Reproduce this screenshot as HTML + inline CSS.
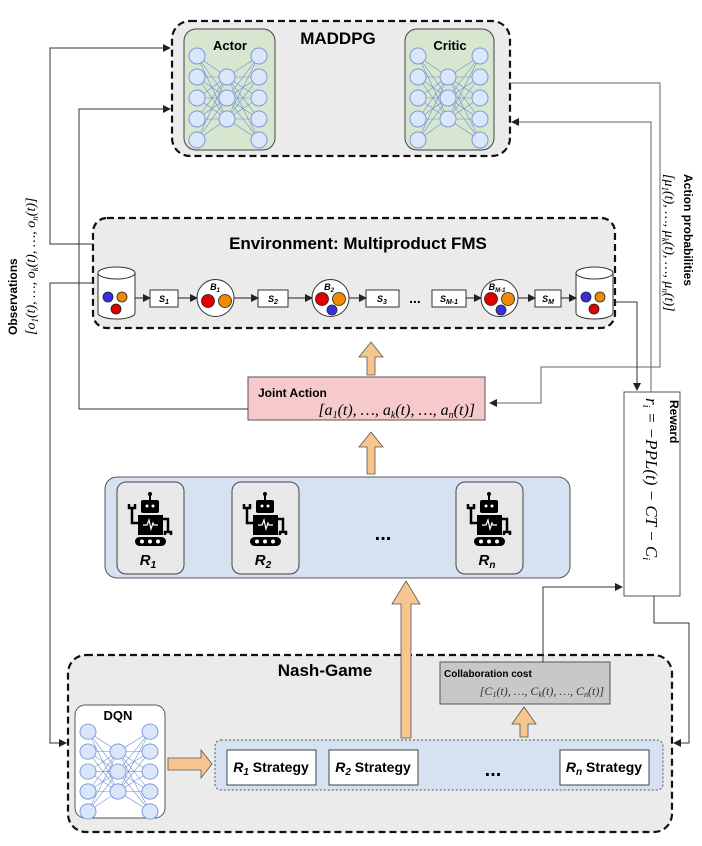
<!DOCTYPE html>
<html><head><meta charset="utf-8"><style>
html,body{margin:0;padding:0;background:#fff;}
svg{display:block;}
text{font-family:"Liberation Sans",sans-serif;}
.m{font-family:"Liberation Serif",serif;font-style:italic;}
</style></head><body>
<svg width="702" height="846" viewBox="0 0 702 846" xmlns="http://www.w3.org/2000/svg">
<defs>
<marker id="ar" markerWidth="8" markerHeight="8" refX="7" refY="4" orient="auto" markerUnits="userSpaceOnUse"><path d="M0,0 L8,4 L0,8 z" fill="#222"/></marker>
<g id="net">
 <g stroke="#6f8fd0" stroke-width="0.6">
  <path d="M14,27 L44,48 M14,27 L44,69 M14,27 L44,90 M14,48 L44,48 M14,48 L44,69 M14,48 L44,90 M14,69 L44,48 M14,69 L44,69 M14,69 L44,90 M14,90 L44,48 M14,90 L44,69 M14,90 L44,90 M14,111 L44,48 M14,111 L44,69 M14,111 L44,90"/>
  <path d="M76,27 L44,48 M76,27 L44,69 M76,27 L44,90 M76,48 L44,48 M76,48 L44,69 M76,48 L44,90 M76,69 L44,48 M76,69 L44,69 M76,69 L44,90 M76,90 L44,48 M76,90 L44,69 M76,90 L44,90 M76,111 L44,48 M76,111 L44,69 M76,111 L44,90"/>
 </g>
 <g fill="#dbe6fb" stroke="#7b9bd8" stroke-width="1">
  <circle cx="14" cy="27" r="8"/><circle cx="14" cy="48" r="8"/><circle cx="14" cy="69" r="8"/><circle cx="14" cy="90" r="8"/><circle cx="14" cy="111" r="8"/>
  <circle cx="44" cy="48" r="8"/><circle cx="44" cy="69" r="8"/><circle cx="44" cy="90" r="8"/>
  <circle cx="76" cy="27" r="8"/><circle cx="76" cy="48" r="8"/><circle cx="76" cy="69" r="8"/><circle cx="76" cy="90" r="8"/><circle cx="76" cy="111" r="8"/>
 </g>
</g>
<g id="robot">
 <line x1="0" y1="-8" x2="0" y2="-3" stroke="#000" stroke-width="2"/><circle cx="0" cy="-9" r="2"/>
 <rect x="-9" y="-3" width="18" height="13" rx="2"/>
 <circle cx="-3" cy="3" r="1.5" fill="#fff"/><circle cx="3" cy="3" r="1.5" fill="#fff"/>
 <rect x="-12" y="12" width="25" height="20"/>
 <path d="M-7,22 L-3,22 L-1,17 L1,26 L3,20 L4,22 L8,22" stroke="#fff" stroke-width="1.2" fill="none"/>
 <path d="M-12,20 L-18,20 L-18,6 M-21,1 L-21,5 L-15,5 L-15,1" stroke="#000" stroke-width="2.5" fill="none"/>
 <path d="M13,16 L18,16 L18,28 M15,32 L15,29 L21,29 L21,32" stroke="#000" stroke-width="2.5" fill="none"/>
 <rect x="-15" y="34" width="31" height="9" rx="4.5"/>
 <circle cx="-8" cy="38.5" r="2" fill="#fff"/><circle cx="0" cy="38.5" r="2" fill="#fff"/><circle cx="8" cy="38.5" r="2" fill="#fff"/>
</g>
</defs>

<!-- MADDPG -->
<rect x="172" y="21" width="338" height="135" rx="18" fill="#ebebeb" stroke="#111" stroke-width="2.2" stroke-dasharray="7,4"/>
<text x="338" y="44" font-size="17" font-weight="bold" text-anchor="middle">MADDPG</text>
<rect x="184" y="29" width="91" height="121" rx="12" fill="#d6e6cf" stroke="#444"/>
<text x="230" y="50" font-size="13" font-weight="bold" text-anchor="middle">Actor</text>
<use href="#net" x="183" y="29"/>
<rect x="405" y="29" width="89" height="121" rx="12" fill="#d6e6cf" stroke="#444"/>
<text x="450" y="50" font-size="13" font-weight="bold" text-anchor="middle">Critic</text>
<use href="#net" x="404" y="29"/>

<!-- Environment -->
<rect x="93" y="218" width="522" height="110" rx="14" fill="#ebebeb" stroke="#111" stroke-width="2.2" stroke-dasharray="7,4"/>
<text x="358" y="249" font-size="17" font-weight="bold" text-anchor="middle">Environment: Multiproduct FMS</text>
<g stroke="#333" stroke-width="1">
 <path d="M98,273 L98,313 A18.5,6 0 0 0 135,313 L135,273" fill="#fff"/>
 <ellipse cx="116.5" cy="273" rx="18.5" ry="6" fill="#fff"/>
 <path d="M576,273 L576,313 A18.5,6 0 0 0 613,313 L613,273" fill="#fff"/>
 <ellipse cx="594.5" cy="273" rx="18.5" ry="6" fill="#fff"/>
 <circle cx="215.5" cy="298" r="18.5" fill="#fff"/>
 <circle cx="330.5" cy="298" r="18.5" fill="#fff"/>
 <circle cx="499.5" cy="298" r="18.5" fill="#fff"/>
 <rect x="150" y="290" width="28" height="17" fill="#fff"/>
 <rect x="258" y="290" width="30" height="17" fill="#fff"/>
 <rect x="366" y="290" width="33" height="17" fill="#fff"/>
 <rect x="432" y="290" width="34" height="17" fill="#fff"/>
 <rect x="535" y="290" width="26" height="17" fill="#fff"/>
</g>
<g stroke="#222" stroke-width="0.8">
 <circle cx="108" cy="297" r="5" fill="#3a2fe0"/><circle cx="122" cy="297" r="5" fill="#f08a00"/><circle cx="116" cy="309" r="5" fill="#e00000"/>
 <circle cx="586" cy="297" r="5" fill="#3a2fe0"/><circle cx="600" cy="297" r="5" fill="#f08a00"/><circle cx="594" cy="309" r="5" fill="#e00000"/>
 <circle cx="208" cy="301" r="6.5" fill="#e00000"/><circle cx="225" cy="301" r="6.5" fill="#f08a00"/>
 <circle cx="322" cy="299" r="6.5" fill="#e00000"/><circle cx="339" cy="299" r="6.5" fill="#f08a00"/><circle cx="332" cy="310" r="5" fill="#3a2fe0"/>
 <circle cx="491" cy="299" r="6.5" fill="#e00000"/><circle cx="508" cy="299" r="6.5" fill="#f08a00"/><circle cx="501" cy="310" r="5" fill="#3a2fe0"/>
</g>
<g font-size="9" font-style="italic" font-weight="bold" text-anchor="middle">
 <text x="164" y="302">S<tspan font-size="7" dy="2">1</tspan></text>
 <text x="273" y="302">S<tspan font-size="7" dy="2">2</tspan></text>
 <text x="382" y="302">S<tspan font-size="7" dy="2">3</tspan></text>
 <text x="449" y="302">S<tspan font-size="7" dy="2">M-1</tspan></text>
 <text x="548" y="302">S<tspan font-size="7" dy="2">M</tspan></text>
 <text x="215" y="290">B<tspan font-size="6" dy="2">1</tspan></text>
 <text x="329" y="290">B<tspan font-size="6" dy="2">2</tspan></text>
 <text x="497" y="290">B<tspan font-size="6" dy="2">M-1</tspan></text>
</g>
<text x="415" y="303" font-size="14" font-weight="bold" text-anchor="middle">...</text>
<g stroke="#222" stroke-width="1" marker-end="url(#ar)">
 <line x1="135" y1="298" x2="150" y2="298"/><line x1="178" y1="298" x2="197" y2="298"/>
 <line x1="234" y1="298" x2="258" y2="298"/><line x1="288" y1="298" x2="312" y2="298"/>
 <line x1="349" y1="298" x2="366" y2="298"/><line x1="466" y1="298" x2="481" y2="298"/>
 <line x1="518" y1="298" x2="535" y2="298"/><line x1="561" y1="298" x2="576" y2="298"/>
</g>

<!-- Joint action -->
<rect x="248" y="377" width="237" height="43" fill="#f6c9cb" stroke="#555"/>
<text x="258" y="397" font-size="12" font-weight="bold">Joint Action</text>
<text x="475" y="415" font-size="16" text-anchor="end" class="m">[a<tspan font-size="10" dy="3">1</tspan><tspan dy="-3">(t), …, a</tspan><tspan font-size="10" dy="3">k</tspan><tspan dy="-3">(t), …, a</tspan><tspan font-size="10" dy="3">n</tspan><tspan dy="-3">(t)]</tspan></text>

<!-- Orange arrows -->
<g fill="#f7c68e" stroke="#555" stroke-width="0.8">
 <path d="M367,375 L367,357 L359,357 L371,342 L383,357 L375,357 L375,375 z"/>
 <path d="M367,474 L367,447 L359,447 L371,432 L383,447 L375,447 L375,474 z"/>
</g>

<!-- Robots -->
<rect x="105" y="477" width="465" height="101" rx="12" fill="#d6e1f2" stroke="#555"/>
<g fill="#e8e8e8" stroke="#444">
 <rect x="117" y="482" width="67" height="92" rx="9"/>
 <rect x="232" y="482" width="67" height="92" rx="9"/>
 <rect x="456" y="482" width="67" height="92" rx="9"/>
</g>
<use href="#robot" x="150" y="503"/>
<use href="#robot" x="265" y="503"/>
<use href="#robot" x="489" y="503"/>
<g font-size="15" font-weight="bold" font-style="italic" text-anchor="middle">
 <text x="148" y="565">R<tspan font-size="10" dy="3">1</tspan></text>
 <text x="263" y="565">R<tspan font-size="10" dy="3">2</tspan></text>
 <text x="487" y="565">R<tspan font-size="10" dy="3">n</tspan></text>
</g>
<text x="383" y="540" font-size="20" font-weight="bold" text-anchor="middle">...</text>

<!-- Reward -->
<rect x="624" y="392" width="56" height="204" fill="#fff" stroke="#555"/>
<text transform="translate(670,400) rotate(90)" font-size="12" font-weight="bold">Reward</text>
<text transform="translate(646,398) rotate(90)" font-size="17" class="m">r<tspan font-size="11" dy="3">i</tspan><tspan dy="-3"> = −PPL(t) − CT − C</tspan><tspan font-size="11" dy="3">i</tspan></text>

<!-- Nash -->
<rect x="68" y="655" width="604" height="177" rx="18" fill="#ebebeb" stroke="#111" stroke-width="2.2" stroke-dasharray="7,4"/>
<path d="M401,738 L401,604 L392,604 L406,581 L420,604 L411,604 L411,738 z" fill="#f7c68e" stroke="#555" stroke-width="0.8"/>
<path d="M520,737 L520,724 L512,724 L524,707 L536,724 L528,724 L528,737 z" fill="#f7c68e" stroke="#555" stroke-width="0.8"/>
<text x="325" y="676" font-size="17" font-weight="bold" text-anchor="middle">Nash-Game</text>
<rect x="440" y="662" width="170" height="42" fill="#c8c8c8" stroke="#555"/>
<text x="444" y="677" font-size="10" font-weight="bold">Collaboration cost</text>
<text x="604" y="695" font-size="12" text-anchor="end" class="m" fill="#333">[C<tspan font-size="8" dy="2">1</tspan><tspan dy="-2">(t), …, C</tspan><tspan font-size="8" dy="2">k</tspan><tspan dy="-2">(t), …, C</tspan><tspan font-size="8" dy="2">n</tspan><tspan dy="-2">(t)]</tspan></text>
<rect x="75" y="705" width="90" height="113" rx="10" fill="#fff" stroke="#555"/>
<text x="118" y="720" font-size="13" font-weight="bold" text-anchor="middle">DQN</text>
<g transform="translate(74,706) scale(1,0.95)"><use href="#net" x="0" y="0"/></g>
<rect x="215" y="740" width="448" height="50" rx="6" fill="#d6e1f2" stroke="#555" stroke-dasharray="2,2"/>
<g fill="#fff" stroke="#444">
 <rect x="227" y="750" width="89" height="35"/><rect x="329" y="750" width="89" height="35"/><rect x="560" y="750" width="89" height="35"/>
</g>
<g font-size="14" font-weight="bold" text-anchor="middle">
 <text x="271" y="772"><tspan font-style="italic">R<tspan font-size="10" dy="3">1</tspan></tspan><tspan dy="-3"> Strategy</tspan></text>
 <text x="373" y="772"><tspan font-style="italic">R<tspan font-size="10" dy="3">2</tspan></tspan><tspan dy="-3"> Strategy</tspan></text>
 <text x="604" y="772"><tspan font-style="italic">R<tspan font-size="10" dy="3">n</tspan></tspan><tspan dy="-3"> Strategy</tspan></text>
</g>
<text x="493" y="776" font-size="20" font-weight="bold" text-anchor="middle">...</text>
<path d="M168,758 L168,770 L201,770 L201,778 L212,764 L201,750 L201,758 z" fill="#f7c68e" stroke="#555" stroke-width="0.8"/>

<!-- Connectors -->
<g fill="none" stroke="#333" stroke-width="1">
 <path d="M93,244 L50,244 L50,48 L170,48" marker-end="url(#ar)"/>
 <path d="M248,409 L79,409 L79,109 L170,109" marker-end="url(#ar)"/>
 <path d="M93,283 L50,283 L50,743 L66,743" marker-end="url(#ar)"/>
 <path d="M510,83 L660,83 L660,367 L541,367 L541,403 L490,403" marker-end="url(#ar)" stroke="#666"/>
 <path d="M651,392 L651,122 L512,122" marker-end="url(#ar)" stroke="#666"/>
 <path d="M615,302 L637,302 L637,390" marker-end="url(#ar)"/>
 <path d="M543,662 L543,587 L622,587" marker-end="url(#ar)"/>
 <path d="M654,596 L654,623 L689,623 L689,743 L674,743" marker-end="url(#ar)"/>
</g>

<!-- Side labels -->
<text transform="translate(17,335) rotate(-90)" font-size="12" font-weight="bold">Observations</text>
<text transform="translate(35,335) rotate(-90)" font-size="14" class="m">[o<tspan font-size="9" dy="3">1</tspan><tspan dy="-3">(t), …, o</tspan><tspan font-size="9" dy="3">k</tspan><tspan dy="-3">(t), …, o</tspan><tspan font-size="9" dy="3">n</tspan><tspan dy="-3">(t)]</tspan></text>
<text transform="translate(684,174) rotate(90)" font-size="12" font-weight="bold">Action probabilities</text>
<text transform="translate(665,174) rotate(90)" font-size="14" class="m">[μ<tspan font-size="9" dy="3">1</tspan><tspan dy="-3">(t), …, μ</tspan><tspan font-size="9" dy="3">k</tspan><tspan dy="-3">(t), …, μ</tspan><tspan font-size="9" dy="3">n</tspan><tspan dy="-3">(t)]</tspan></text>
</svg>
</body></html>
